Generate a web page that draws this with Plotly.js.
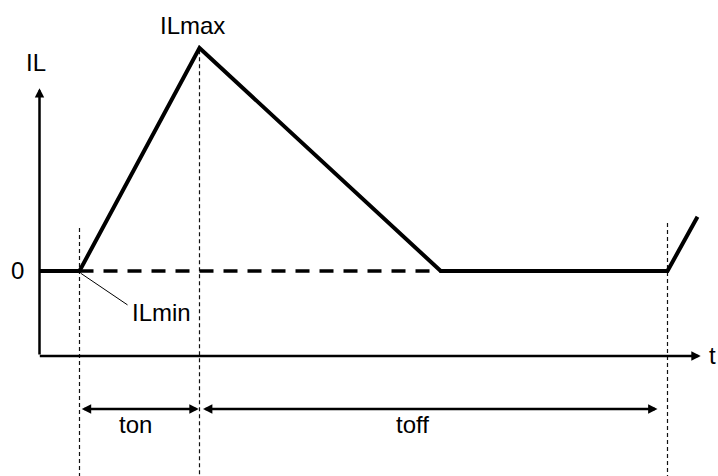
<!DOCTYPE html>
<html>
<head>
<meta charset="utf-8">
<script src="https://cdn.plot.ly/plotly-3.0.1.min.js"></script>
<style>
  html, body { margin: 0; padding: 0; background: #fff; }
  #graph { width: 718px; height: 476px; }
</style>
</head>
<body>
<div id="graph"></div>
<script>
// inductor current waveform (time units, current units)
let waveT = [0, 1, 4, 10.03, 15.7, 16.45];
let waveI = [0, 0, 10, 0, 0, 2.43];

// dashed zero reference during the pulse
let zeroT = [1, 10.03];
let zeroI = [0, 0];

// switching instants (dotted guides) and where each guide starts
let markT = [1, 4, 15.7];
let markTop = [1.93, 9.9, 2.15];
let guideBottom = -9.3;

// axes
let axisOrigin = [0, -3.81];
let axisTipT = 16.53;
let axisTipI = 8.2;

// interval arrows
let spanY = -6.19;
let tonSpan = [1.02, 3.98];
let toffSpan = [4.05, 15.45];

// ILmin leader line
let leadT = [1.03, 2.2];
let leadI = [-0.1, -1.52];

// labels
let labelText = ["IL", "ILmax", "0", "ILmin", "t", "ton", "toff"];
let labelT = [-0.1, 3.83, -0.55, 3.05, 16.83, 2.4, 9.33];
let labelI = [9.37, 11.03, 0, -1.84, -3.77, -6.9, -6.9];

// ---------- TRACES ----------
let gx = [], gy = [];
markT.forEach((t, i) => {
  gx.push(t, t, null);
  gy.push(markTop[i], guideBottom, null);
});

let traces = [
  {
    x: gx, y: gy, type: "scatter", mode: "lines",
    line: { color: "#111", width: 1.2, dash: "4px,3px" },
    hoverinfo: "skip"
  },
  {
    x: zeroT, y: zeroI, type: "scatter", mode: "lines",
    line: { color: "#000", width: 3.5, dash: "14px,10px" },
    hoverinfo: "skip"
  },
  {
    x: waveT, y: waveI, type: "scatter", mode: "lines",
    line: { color: "#000", width: 4 },
    hoverinfo: "skip"
  },
  {
    x: leadT, y: leadI, type: "scatter", mode: "lines",
    line: { color: "#000", width: 1 },
    hoverinfo: "skip"
  }
];

// ---------- ANNOTATIONS ----------
function arrow(x, y, ax, ay, both) {
  return {
    x: x, y: y, ax: ax, ay: ay,
    xref: "x", yref: "y", axref: "x", ayref: "y",
    text: "", showarrow: true,
    arrowhead: 2, arrowsize: 0.75, arrowwidth: 2.5, arrowcolor: "#000",
    arrowside: both ? "end+start" : "end",
    startarrowhead: 2, startarrowsize: 0.75
  };
}

let notes = [
  arrow(axisOrigin[0], axisTipI, axisOrigin[0], axisOrigin[1], false),
  arrow(axisTipT, axisOrigin[1], axisOrigin[0] - 0.03, axisOrigin[1], false),
  arrow(tonSpan[1], spanY, tonSpan[0], spanY, true),
  arrow(toffSpan[1], spanY, toffSpan[0], spanY, true)
];

labelText.forEach((s, i) => {
  notes.push({
    x: labelT[i], y: labelI[i], xref: "x", yref: "y",
    text: s, showarrow: false,
    font: { family: "Arial, 'Liberation Sans', sans-serif", size: 24, color: "#000" }
  });
});

let layout = {
  width: 718, height: 476,
  margin: { l: 0, r: 0, t: 0, b: 0 },
  paper_bgcolor: "#fff", plot_bgcolor: "#fff",
  showlegend: false,
  xaxis: { range: [-0.9875, 16.9625], visible: false, fixedrange: true },
  yaxis: { range: [-9.193, 12.152], visible: false, fixedrange: true },
  annotations: notes
};

Plotly.newPlot("graph", traces, layout, { staticPlot: true, displayModeBar: false });
</script>
</body>
</html>
